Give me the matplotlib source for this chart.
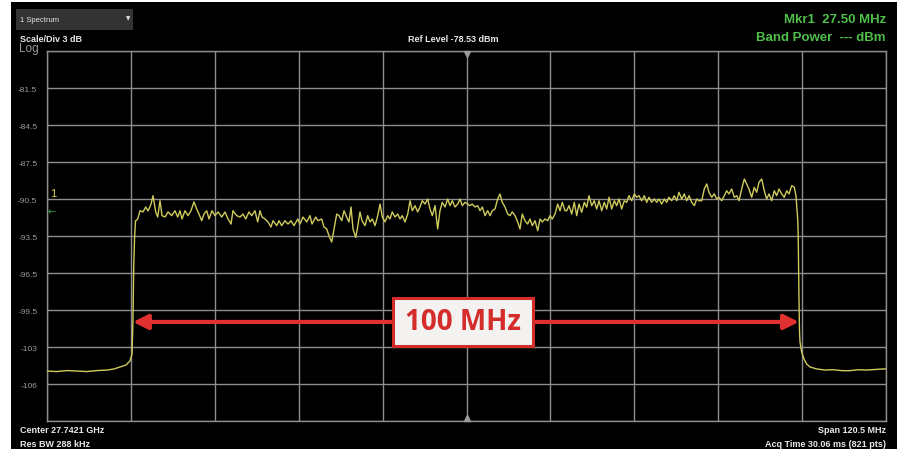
import numpy as np
import matplotlib
matplotlib.use("Agg")
import matplotlib.pyplot as plt
from matplotlib.patches import Rectangle, FancyArrowPatch

# ---------------- data ----------------
ref_level = -78.53          # dBm, top of screen
scale_div = 3.0             # dB / div
span_mhz = 120.5
ytick_labels = ['', '-81.5', '-84.5', '-87.5', '-90.5', '-93.5', '-96.5', '-99.5', '-103', '-106', '']

# left noise floor and rising edge (MHz offset from center, dBm)
left_f = [-60.25, -58.81, -57.38, -55.94, -54.50, -53.07, -51.63, -50.63, -49.76, -48.90,
          -48.33, -48.04, -47.90, -47.80, -47.68, -47.54]
left_v = [-104.48, -104.52, -104.44, -104.48, -104.52, -104.44, -104.40, -104.31, -104.15, -103.99,
          -103.66, -103.10, -100.26, -96.21, -93.77, -92.31]

# in-band trace
band_f = [-47.22, -46.89, -46.46, -46.07, -45.74, -45.31, -45.02, -44.64, -44.35, -44.02,
          -43.73, -43.30, -42.87, -42.34, -41.87, -41.48, -41.15, -40.86, -40.43, -40.00,
          -39.57, -39.14, -38.75, -38.42, -38.03, -37.70, -37.31, -36.98, -36.55, -36.12,
          -35.69, -35.16, -34.68, -34.25, -33.82, -33.54, -33.00, -32.53, -32.10, -31.71,
          -31.24, -30.85, -30.38, -29.99, -29.66, -29.37, -28.94, -28.51, -28.08, -27.79,
          -27.26, -26.93, -26.54, -26.07, -25.64, -25.21, -24.77, -24.24, -23.91, -23.48,
          -22.95, -22.48, -22.19, -21.66, -21.33, -20.80, -20.47, -20.08, -19.75, -19.36,
          -19.03, -18.64, -18.31, -17.92, -17.59,
          -17.21, -16.88, -16.59, -16.30, -15.91, -15.63, -15.30, -15.01, -14.58, -14.19,
          -13.86, -13.53, -13.14, -12.75, -12.42, -12.09, -11.71, -11.32, -10.99, -10.66,
          -10.27, -9.88, -9.55, -9.22, -8.83, -8.44, -8.11, -7.78, -7.40, -7.01,
          -6.68, -6.35, -5.96, -5.57, -5.24, -4.91, -4.52, -4.14, -3.81, -3.48,
          -3.09, -2.70, -2.37, -2.04, -1.65, -1.26, -0.93, -0.60, -0.22, 0.17,
          0.50, 0.83, 1.22, 1.61, 1.94, 2.27, 2.66, 3.04, 3.38, 3.71,
          4.09, 4.48, 4.81, 5.14, 5.53, 5.92, 6.25, 6.58, 6.97, 7.35,
          7.68, 8.01, 8.40, 8.79, 9.12, 9.45, 9.84, 10.23, 10.56, 10.89,
          11.27, 11.66, 11.99, 12.32, 12.71, 13.10, 13.43, 13.76, 14.15,
          14.39, 14.72, 15.11, 15.48, 15.83, 16.16, 16.54, 16.92, 17.26, 17.59,
          17.98, 18.35, 18.70, 19.03, 19.42, 19.79, 20.14, 20.47, 20.85, 21.23,
          21.57, 21.90, 22.29, 22.66, 23.01, 23.34, 23.73, 24.10, 24.44, 24.77,
          25.16, 25.54, 25.88, 26.21, 26.60, 26.97, 27.32, 27.65, 28.03, 28.41,
          28.75, 29.08, 29.47, 29.84, 30.19, 30.52, 30.91, 31.28, 31.63, 31.96,
          32.34, 32.72, 33.06, 33.39, 33.78, 34.15, 34.50, 34.83, 35.22, 35.59,
          35.93, 36.26, 36.65, 37.03, 37.37, 37.70, 38.09, 38.46, 38.81, 39.14,
          39.52, 39.90, 40.24, 40.57, 40.96, 41.33, 41.68, 42.01, 42.40, 42.77,
          43.11, 43.45, 43.83, 44.21, 44.55, 44.88, 45.27, 45.64, 45.99, 46.32,
          46.71, 47.08, 47.32, 47.57]
band_v = [-92.15, -91.48, -91.58, -91.18, -91.50, -90.94, -90.26, -91.58, -91.99, -90.67,
          -91.88, -91.99, -91.58, -91.88, -91.48, -91.99, -91.48, -92.15, -91.48, -91.88,
          -91.48, -90.77, -91.34, -91.75, -92.29, -91.75, -91.48, -92.15, -91.48, -91.88,
          -91.58, -91.99, -91.58, -92.15, -92.56, -91.48, -91.88, -91.99, -91.75, -92.15,
          -91.58, -91.88, -91.48, -92.39, -91.48, -91.99, -92.15, -92.39, -92.80, -92.29,
          -92.69, -92.29, -92.69, -92.29, -92.56, -92.29, -92.69, -92.15, -92.56, -91.99,
          -92.39, -91.88, -92.56, -91.99, -92.29, -92.15, -92.80, -92.96, -93.51, -94.02,
          -92.96, -91.75, -91.88, -92.29, -91.48,
          -91.99, -92.39, -91.18, -92.96, -93.64, -92.80, -91.58, -92.29, -92.69, -91.88,
          -92.39, -92.15, -92.69, -91.88, -90.94, -91.99, -92.39, -91.88, -92.15, -91.58,
          -91.99, -91.75, -92.15, -91.88, -92.39, -91.75, -90.67, -91.48, -91.07, -91.58,
          -91.18, -90.67, -90.94, -90.53, -91.34, -91.88, -91.07, -92.96, -91.48, -90.80,
          -91.18, -90.53, -91.07, -90.67, -91.18, -90.94, -90.53, -91.07, -90.80, -90.94,
          -91.07, -90.94, -91.18, -91.07, -91.48, -91.18, -91.88, -91.48, -91.88, -91.48,
          -91.34, -90.53, -90.12, -90.80, -91.18, -91.75, -91.88, -91.58, -91.88, -92.39,
          -92.96, -91.75, -92.29, -92.56, -92.15, -92.69, -92.29, -93.10, -92.15, -92.39,
          -92.15, -92.29, -91.88, -92.15, -91.75, -90.94, -91.48, -90.80, -91.48,
          -91.48, -91.07, -91.75, -90.80, -91.88, -90.94, -91.61, -90.80, -91.20, -90.26,
          -91.07, -90.67, -91.34, -90.67, -91.48, -90.80, -91.34, -90.39, -91.34, -90.67,
          -91.07, -90.53, -91.34, -90.67, -90.80, -90.26, -90.67, -90.12, -90.39, -90.26,
          -90.67, -90.26, -90.80, -90.39, -90.80, -90.53, -90.80, -90.53, -90.94, -90.53,
          -90.80, -90.39, -90.67, -90.26, -90.67, -89.99, -90.53, -90.12, -90.67, -90.26,
          -90.80, -91.07, -90.53, -90.67, -90.67, -89.72, -89.31, -89.99, -90.39, -90.12,
          -90.53, -90.39, -90.67, -90.26, -89.86, -90.12, -89.72, -90.39, -90.26, -90.67,
          -89.72, -88.91, -89.31, -89.72, -90.39, -89.58, -89.99, -89.18, -88.91, -89.86,
          -90.53, -90.12, -90.67, -89.86, -90.26, -89.72, -90.12, -90.39, -89.86, -90.12,
          -89.45, -89.58, -90.26, -92.15]

# falling edge and right noise floor
right_f = [47.65, 47.75, 47.83, 47.90, 48.14, 48.47, 48.86, 49.33, 50.30, 51.49,
           52.64, 53.93, 55.08, 56.23, 57.48, 58.67, 59.82, 60.25]
right_v = [-93.77, -98.64, -101.31, -102.12, -102.94, -103.50, -103.91, -104.15, -104.31, -104.40,
           -104.37, -104.45, -104.45, -104.37, -104.40, -104.35, -104.31, -104.31]

# occupied bandwidth annotation
bw_lo, bw_hi = -47.90, 47.75
bw_level = -100.5
bw_label = "100 MHz"

# ---------------- figure ----------------
W, H = 901, 452
fig = plt.figure(figsize=(W / 100, H / 100), dpi=100, facecolor='white')

def px(x, y):
    return x / W, 1 - y / H

# black screen area
fig.add_artist(Rectangle(px(11, 450), (897 - 11) / W, (450 - 3) / H,
                         transform=fig.transFigure, facecolor='black', edgecolor='none', zorder=0))

L, R, T, B = 47, 886, 52, 422
ax = fig.add_axes([L / W, 1 - B / H, (R - L) / W, (B - T) / H])
ax.set_facecolor('black')

grid_c = '#8e8e8e'
ax.set_xlim(-span_mhz / 2, span_mhz / 2)
ax.set_ylim(ref_level - 10 * scale_div, ref_level)
ax.set_xticks(np.linspace(-span_mhz / 2, span_mhz / 2, 11))
ax.set_yticks([ref_level - scale_div * k for k in range(11)])
ax.set_yticklabels(ytick_labels)
ax.set_xticklabels([])
ax.tick_params(length=0, colors='#9a9a9a', labelsize=6, pad=7)
for lab in ax.get_yticklabels():
    lab.set_family('Liberation Sans')
ax.grid(True, color=grid_c, lw=1.0)
for s in ax.spines.values():
    s.set_color(grid_c)
    s.set_linewidth(1.0)

# trace
f_all = left_f + band_f + right_f
v_all = left_v + band_v + right_v
ax.plot(f_all, v_all, color='#cfcb5c', lw=1.0, zorder=3)

# center triangles
ax.plot([0], [ref_level - 0.25], marker='v', color='#9a9a9a', ms=4, zorder=4, clip_on=False)
ax.plot([0], [ref_level - 10 * scale_div + 0.25], marker='^', color='#9a9a9a', ms=4, zorder=4, clip_on=False)

# bandwidth arrow
arr = FancyArrowPatch((bw_lo, bw_level), (bw_hi, bw_level), arrowstyle='<|-|>',
                      mutation_scale=22, color='#e03030', lw=3, zorder=5,
                      shrinkA=0, shrinkB=0)
ax.add_patch(arr)
bx0, bx1 = (393 - L) / (R - L), (533 - L) / (R - L)
by0, by1 = (B - 347) / (B - T), (B - 299) / (B - T)
ax.add_patch(Rectangle((bx0, by0), bx1 - bx0, by1 - by0, transform=ax.transAxes,
                       facecolor='#f4f1f1', edgecolor='#d42b2b', lw=2.2, zorder=6))
ax.text((bx0 + bx1) / 2, (by0 + by1) / 2, bw_label, transform=ax.transAxes,
        ha='center', va='center', color='#d42b2b', fontsize=20, fontweight='bold',
        family='Open Sans', zorder=7)

# ---------------- screen annotations ----------------
ui = 'Liberation Sans'
fig.add_artist(Rectangle(px(16, 31), (133 - 16) / W, (31 - 10) / H,
                         transform=fig.transFigure, facecolor='#333333', edgecolor='none', zorder=1))
fig.text(*px(20, 20), '1 Spectrum', color='#e6e6e6', fontsize=5.5, family=ui, va='center', ha='left')
fig.text(*px(128, 19), '\u25bc', color='#e6e6e6', fontsize=4, family='DejaVu Sans', va='center', ha='center')
fig.text(*px(20, 39), 'Scale/Div 3 dB', color='#e8e8e8', fontsize=6.5, fontweight='bold', family=ui, va='center')
fig.text(*px(19, 49), 'Log', color='#9a9a9a', fontsize=8.5, family=ui, va='center')
fig.text(*px(453, 40), 'Ref Level -78.53 dBm', color='#e8e8e8', fontsize=6.5, fontweight='bold',
         family=ui, va='center', ha='center')
fig.text(*px(886, 20), 'Mkr1  27.50 MHz', color='#4fbf4a', fontsize=9.5, fontweight='bold',
         family=ui, va='center', ha='right')
fig.text(*px(886, 38), 'Band Power  --- dBm', color='#4fbf4a', fontsize=9.5, fontweight='bold',
         family=ui, va='center', ha='right')
fig.text(*px(20, 431), 'Center 27.7421 GHz', color='#e8e8e8', fontsize=6.5, fontweight='bold',
         family=ui, va='center', ha='left')
fig.text(*px(20, 445), 'Res BW 288 kHz', color='#e8e8e8', fontsize=6.5, fontweight='bold',
         family=ui, va='center', ha='left')
fig.text(*px(886, 431), 'Span 120.5 MHz', color='#e8e8e8', fontsize=6.5, fontweight='bold',
         family=ui, va='center', ha='right')
fig.text(*px(886, 445), 'Acq Time 30.06 ms (821 pts)', color='#e8e8e8', fontsize=6.5, fontweight='bold',
         family=ui, va='center', ha='right')
fig.text(*px(53, 194), '1', color='#d9d04a', fontsize=8, family=ui, va='center', ha='center')
fig.text(*px(52, 212), '\u2190', color='#3f9f4a', fontsize=7, family='DejaVu Sans', va='center', ha='center')

fig.savefig('out.png', dpi=100, facecolor='white')
